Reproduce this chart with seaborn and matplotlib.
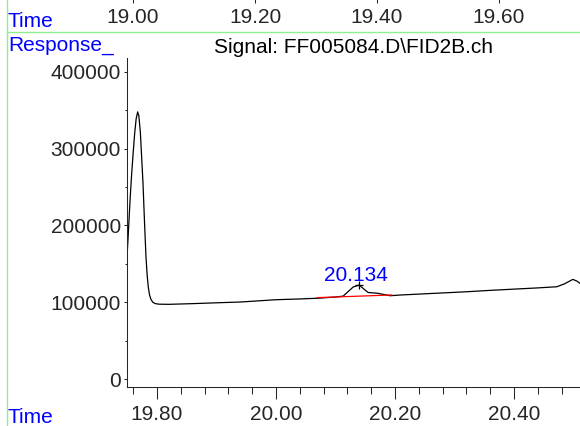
import numpy as np
import pandas as pd
import matplotlib
matplotlib.use("Agg")
import matplotlib.pyplot as plt
from matplotlib.lines import Line2D
from matplotlib.ticker import MultipleLocator
import seaborn as sns

# chromatogram trace (time in min, response)
time = [19.7496, 19.7515, 19.7535, 19.7555, 19.7575, 19.7600, 19.7625, 19.7650,
        19.7675, 19.7695, 19.7720, 19.7745, 19.7765, 19.7790, 19.7815, 19.7835,
        19.7855, 19.7875, 19.7900, 19.7930, 19.7970, 19.8030, 19.8200, 19.8600,
        19.9000, 19.9400, 19.9700, 20.0000, 20.0400, 20.0690, 20.1000, 20.1130,
        20.1200, 20.1300, 20.1400, 20.1480, 20.1550, 20.1700, 20.1920, 20.2080,
        20.2500, 20.3210, 20.3600, 20.4050, 20.4400, 20.4720, 20.4850, 20.4990,
        20.5060, 20.5110]
response = [159000, 185000, 215000, 243000, 268000, 295000, 320000, 339000,
            348000, 343000, 322000, 285000, 255000, 205000, 159000, 135000,
            119000, 109500, 103500, 100000, 98300, 97500, 97300, 98200,
            99300, 100300, 101800, 103300, 104300, 105200, 106800, 108000,
            113000, 120000, 122500, 117000, 112700, 111800, 108500, 109400,
            111000, 113700, 115500, 117300, 118700, 120200, 124000, 129800,
            127500, 124600]

# integration baseline of the labelled peak
base_time = [20.069, 20.195]
base_resp = [106000, 109500]
peak_time = 20.140
peak_resp = 122500
peak_label = "20.134"

# ticks of the panel above (only its labels show)
top_ticks = [19.00, 19.20, 19.40, 19.60]
x_ticks = [19.80, 20.00, 20.20, 20.40]
y_ticks = [0, 100000, 200000, 300000, 400000]

title = "Signal: FF005084.D\\FID2B.ch"

sns.set_style("ticks")
plt.rcParams['font.family'] = ['Liberation Sans', 'DejaVu Sans']
plt.rcParams['font.size'] = 15

W, H = 580, 426
fig = plt.figure(figsize=(W / 100, H / 100), dpi=100)

# main axes
ax = fig.add_axes([127 / W, (H - 387) / H, (580 - 127) / W, (387 - 58) / H])
df = pd.DataFrame({"time": time, "response": response})
sns.lineplot(data=df, x="time", y="response", ax=ax, color="black", linewidth=0.9)
ax.plot(base_time, base_resp, color="red", linewidth=0.9)
ax.plot([peak_time], [peak_resp], marker="+", color="black", markersize=6,
        markeredgewidth=0.9, linestyle="none")
ax.text(20.1336, 127700, peak_label, color="blue", ha="center", va="baseline", fontsize=15)

ax.set_xlim(19.7496, 20.511)
ax.set_ylim(-10400, 418200)
ax.set_xticks(x_ticks)
ax.set_xticklabels([f"{t:.2f}" for t in x_ticks])
ax.set_yticks(y_ticks)
ax.set_yticklabels([str(v) for v in y_ticks])
ax.xaxis.set_minor_locator(MultipleLocator(0.04))
ax.yaxis.set_minor_locator(MultipleLocator(50000))
ax.tick_params(axis="x", which="major", length=8.6, width=0.75, pad=4.3, labelsize=15)
ax.tick_params(axis="x", which="minor", length=5, width=0.75)
ax.tick_params(axis="y", which="major", length=2.5, width=0.75, pad=2, labelsize=15)
ax.tick_params(axis="y", which="minor", length=1.5, width=0.75)
ax.set_xlabel("")
ax.set_ylabel("")
for s in ["top", "right"]:
    ax.spines[s].set_visible(False)
for s in ["left", "bottom"]:
    ax.spines[s].set_linewidth(0.75)

# tail of the panel above
ax2 = fig.add_axes([127 / W, 1 + 9 / H, (580 - 127) / W, 0.05])
ax2.set_xlim(18.990, 19.733)
ax2.set_xticks(top_ticks)
ax2.set_xticklabels([f"{t:.2f}" for t in top_ticks])
ax2.set_yticks([])
ax2.tick_params(axis="x", which="major", length=8.6, width=0.75, pad=3.6, labelsize=15)
for s in ["top", "right", "left"]:
    ax2.spines[s].set_visible(False)
ax2.patch.set_visible(False)

# frame text and green separators
fig.text(8 / W, 1 - 27 / H, "Time", color="blue", va="baseline", ha="left", fontsize=15)
fig.text(8 / W, 1 - 51 / H, "Response_", color="blue", va="baseline", ha="left", fontsize=15)
fig.text(8 / W, 1 - 423 / H, "Time", color="blue", va="baseline", ha="left", fontsize=15)
fig.text(353 / W, 1 - 53 / H, title, color="black", va="baseline", ha="center", fontsize=15)

fig.add_artist(Line2D([7 / W, 1], [1 - 31.5 / H, 1 - 31.5 / H], color="#90ee90", linewidth=1))
fig.add_artist(Line2D([7 / W, 7 / W], [0, 1], color="#90ee90", linewidth=1))

fig.savefig("out.png", dpi=100)
